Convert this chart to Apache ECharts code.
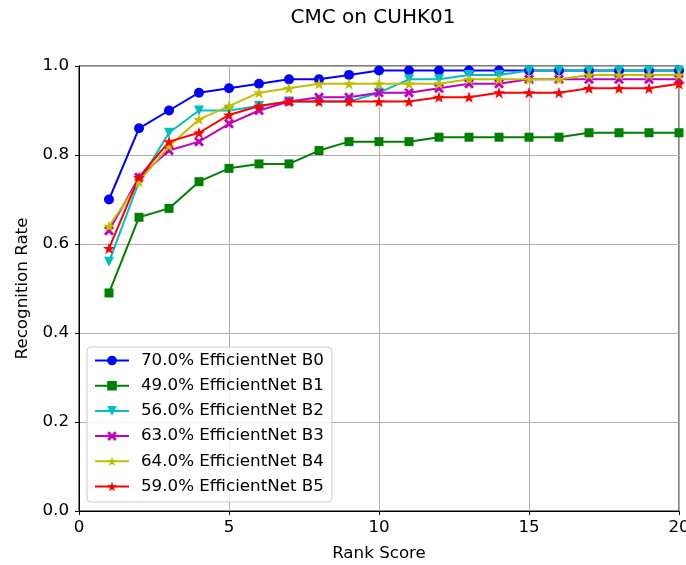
<!DOCTYPE html>
<html>
<head>
<meta charset="utf-8">
<script src="https://cdn.jsdelivr.net/npm/echarts@6/dist/echarts.min.js"></script>
<style>
  html, body { margin: 0; padding: 0; background: #fff; }
  #chart { width: 686px; height: 565px; }
</style>
</head>
<body>
<div id="chart"></div>
<script>
  // rank positions 1..20
  var ranks = [1, 2, 3, 4, 5, 6, 7, 8, 9, 10, 11, 12, 13, 14, 15, 16, 17, 18, 19, 20];

  var b0 = [0.70, 0.86, 0.90, 0.94, 0.95, 0.96, 0.97, 0.97, 0.98, 0.99, 0.99, 0.99, 0.99, 0.99, 0.99, 0.99, 0.99, 0.99, 0.99, 0.99];
  var b1 = [0.49, 0.66, 0.68, 0.74, 0.77, 0.78, 0.78, 0.81, 0.83, 0.83, 0.83, 0.84, 0.84, 0.84, 0.84, 0.84, 0.85, 0.85, 0.85, 0.85];
  var b2 = [0.56, 0.74, 0.85, 0.90, 0.90, 0.91, 0.92, 0.92, 0.92, 0.94, 0.97, 0.97, 0.98, 0.98, 0.99, 0.99, 0.99, 0.99, 0.99, 0.99];
  var b3 = [0.63, 0.75, 0.81, 0.83, 0.87, 0.90, 0.92, 0.93, 0.93, 0.94, 0.94, 0.95, 0.96, 0.96, 0.97, 0.97, 0.97, 0.97, 0.97, 0.97];
  var b4 = [0.64, 0.74, 0.82, 0.88, 0.91, 0.94, 0.95, 0.96, 0.96, 0.96, 0.96, 0.96, 0.97, 0.97, 0.97, 0.97, 0.98, 0.98, 0.98, 0.98];
  var b5 = [0.59, 0.75, 0.83, 0.85, 0.89, 0.91, 0.92, 0.92, 0.92, 0.92, 0.92, 0.93, 0.93, 0.94, 0.94, 0.94, 0.95, 0.95, 0.95, 0.96];

  var names = ['70.0% EfficientNet B0', '49.0% EfficientNet B1', '56.0% EfficientNet B2',
               '63.0% EfficientNet B3', '64.0% EfficientNet B4', '59.0% EfficientNet B5'];
  var colors = ['#0000ff', '#008000', '#00bfbf', '#bf00bf', '#bfbf00', '#ff0000'];

  var starPath = 'path://M0,-10L2.35,-3.24L9.51,-3.09L3.8,1.24L5.88,8.09L0,4L-5.88,8.09L-3.8,1.24L-9.51,-3.09L-2.35,-3.24Z';
  var xPath = 'path://M-3,-5L0,-2L3,-5L5,-3L2,0L5,3L3,5L0,2L-3,5L-5,3L-2,0L-5,-3Z';
  var symbols = ['circle', 'rect', 'triangle', xPath, starPath, starPath];
  var sizes = [10, 9, 10, 10, 12, 12];
  var rotates = [0, 0, 180, 0, 0, 0];

  var font = 'DejaVu Sans';
  var fs = 16.7;

  function pairs(vals) {
    return ranks.map(function (r, i) { return [r, vals[i]]; });
  }

  var allData = [b0, b1, b2, b3, b4, b5];
  var series = allData.map(function (vals, i) {
    return {
      name: names[i],
      type: 'line',
      data: pairs(vals),
      symbol: symbols[i],
      symbolSize: sizes[i],
      symbolRotate: rotates[i],
      symbolKeepAspect: true,
      showAllSymbol: true,
      clip: false,
      itemStyle: { color: colors[i] },
      lineStyle: { color: colors[i], width: 2 },
      emphasis: { disabled: true }
    };
  });

  var chart = echarts.init(document.getElementById('chart'));
  chart.setOption({
    animation: false,
    backgroundColor: '#fff',
    textStyle: { fontFamily: font, color: '#000' },
    title: {
      text: 'CMC on CUHK01',
      left: 368,
      textAlign: 'center',
      top: 3,
      textStyle: { fontFamily: font, fontSize: 20, fontWeight: 'normal', color: '#000' }
    },
    grid: {
      left: 79, right: 7, top: 66, bottom: 54,
      outerBoundsMode: 'none',
      containLabel: false,
      show: true, borderColor: '#000', borderWidth: 1, backgroundColor: 'transparent'
    },
    legend: {
      orient: 'vertical',
      left: 87,
      top: 347,
      itemWidth: 34,
      itemHeight: 12,
      itemGap: 8.2,
      padding: [5, 8, 7, 7],
      backgroundColor: 'rgba(255,255,255,0.8)',
      borderColor: '#cccccc',
      borderWidth: 1,
      borderRadius: 4,
      textStyle: { fontFamily: font, fontSize: fs, lineHeight: 17, color: '#000', padding: [0, 0, 0, 7] },
      data: names
    },
    xAxis: {
      type: 'value',
      min: 0, max: 20, interval: 5,
      name: 'Rank Score',
      nameLocation: 'middle',
      nameGap: 34,
      nameTextStyle: { fontFamily: font, fontSize: fs, color: '#000' },
      axisLine: { show: true, onZero: false, lineStyle: { color: '#000', width: 1 } },
      axisTick: { show: true, inside: false, length: 4, lineStyle: { color: '#000' } },
      axisLabel: { fontFamily: font, fontSize: fs, color: '#000', margin: 8, showMaxLabel: true, hideOverlap: false },
      splitLine: { show: true, lineStyle: { color: '#b0b0b0', width: 1 } }
    },
    yAxis: {
      type: 'value',
      min: 0, max: 1, interval: 0.2,
      name: 'Recognition Rate',
      nameLocation: 'middle',
      nameGap: 47,
      nameTextStyle: { fontFamily: font, fontSize: fs, color: '#000' },
      axisLine: { show: true, onZero: false, lineStyle: { color: '#000', width: 1 } },
      axisTick: { show: true, inside: false, length: 4, lineStyle: { color: '#000' } },
      axisLabel: {
        fontFamily: font, fontSize: fs, color: '#000', margin: 10,
        formatter: function (v) { return v.toFixed(1); }
      },
      splitLine: { show: true, lineStyle: { color: '#b0b0b0', width: 1 } }
    },
    series: series
  });
</script>
</body>
</html>
